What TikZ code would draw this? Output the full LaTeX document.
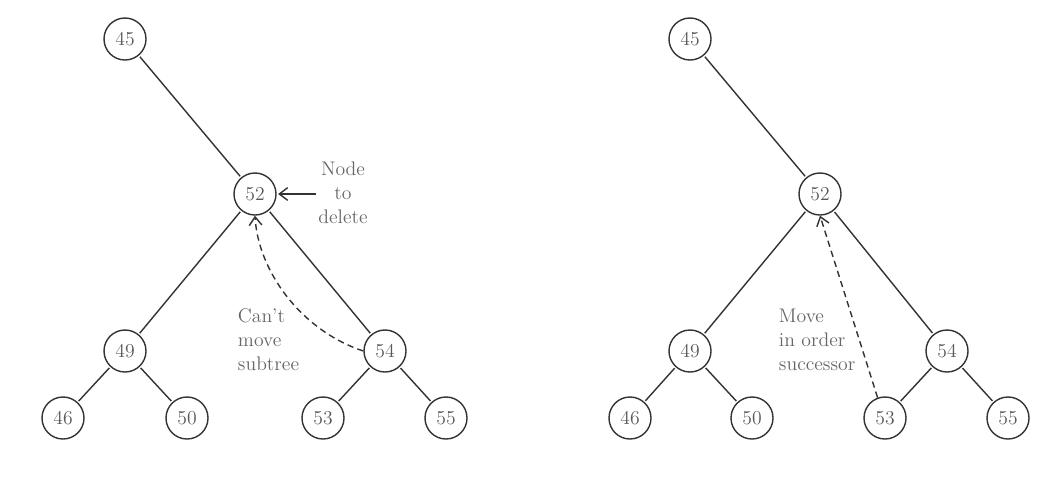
\documentclass[tikz,border=0pt]{standalone}
\usetikzlibrary{arrows.meta}
\begin{document}
\begin{tikzpicture}[x=0.025cm,y=-0.025cm,
		key/.style={draw=black!80,line width=1pt,circle,minimum size=1.05cm,inner sep=0pt,font=\fontsize{14}{16}\selectfont,text=black!65},
		note/.style={align=center,font=\fontsize{14}{17}\selectfont,text=black!60},
		edge/.style={line width=1pt,black!80,shorten <=1pt,shorten >=1pt},
		move/.style={line width=1pt,black!80,dash pattern=on 4.5pt off 3pt,-{Straight Barb[length=6pt,width=9pt]}}]
		\useasboundingbox (0,0) rectangle (1057,482);
		
		% left tree
		\node[key] (a45) at (125,39) {45};
		\node[key] (a52) at (255,194) {52};
		\node[key] (a49) at (125,351) {49};
		\node[key] (a54) at (385,351) {54};
		\node[key] (a46) at (63,418) {46};
		\node[key] (a50) at (187,418) {50};
		\node[key] (a53) at (323,418) {53};
		\node[key] (a55) at (446,418) {55};
		
		\draw[edge] (a45) -- (a52);
		\draw[edge] (a52) -- (a49);
		\draw[edge] (a52) -- (a54);
		\draw[edge] (a49) -- (a46);
		\draw[edge] (a49) -- (a50);
		\draw[edge] (a54) -- (a53);
		\draw[edge] (a54) -- (a55);
		
		\node[note] (del) at (343,193) {Node\\to\\delete};
		\node[note,align=left,anchor=west] (cant) at (233,340) {Can't\\move\\subtree};
		\coordinate (delin) at (316,194);
		\draw[edge,shorten <=0pt,-{Straight Barb[length=6pt,width=9pt]}] (delin) -- (a52);
		\draw[move] (a54.west) .. controls (300,330) and (258,270) .. (a52.south);
		
		% right tree
		\node[key] (b45) at (690,39) {45};
		\node[key] (b52) at (820,194) {52};
		\node[key] (b49) at (690,351) {49};
		\node[key] (b54) at (947,351) {54};
		\node[key] (b46) at (630,418) {46};
		\node[key] (b50) at (752,418) {50};
		\node[key] (b53) at (885,418) {53};
		\node[key] (b55) at (1008,418) {55};
		
		\draw[edge] (b45) -- (b52);
		\draw[edge] (b52) -- (b49);
		\draw[edge] (b52) -- (b54);
		\draw[edge] (b49) -- (b46);
		\draw[edge] (b49) -- (b50);
		\draw[edge] (b54) -- (b53);
		\draw[edge] (b54) -- (b55);
		
		\node[note,align=left,anchor=west] (succ) at (774,340) {Move\\in order\\successor};
		\draw[move] (b53.110) -- (b52.south);
	\end{tikzpicture}
\end{document}
